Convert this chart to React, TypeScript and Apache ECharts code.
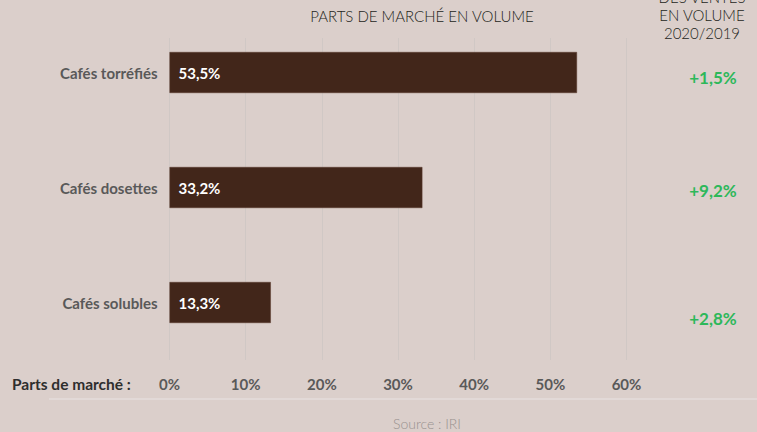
import React, { useEffect, useRef } from "react";
import * as echarts from "echarts";

const categories = ["Cafés torréfiés", "Cafés dosettes", "Cafés solubles"];
const shares = [53.5, 33.2, 13.3];
const growth = ["+1,5%", "+9,2%", "+2,8%"];
const growthY = [77, 190, 318];
const xMin = 0;
const xMax = 60;
const xInterval = 10;

const BG = "#dbcfcb";
const FONT = "Lato, 'Open Sans', sans-serif";

export default function App() {
  const ref = useRef<HTMLDivElement>(null);
  useEffect(() => {
    document.body.style.margin = "0";
    document.body.style.background = BG;
    const chart = echarts.init(ref.current!, null, { renderer: "svg" });
    chart.setOption({
      animation: false,
      backgroundColor: BG,
      textStyle: { fontFamily: FONT },
      grid: [
        { left: 169.5, right: 130.5, top: 15, height: 345, containLabel: false },
        { left: 169.5, right: 130.5, top: 38, height: 322, containLabel: false },
      ],
      xAxis: [
        {
          type: "value",
          gridIndex: 0,
          min: xMin,
          max: xMax,
          interval: xInterval,
          axisLine: { show: false },
          axisTick: { show: false },
          splitLine: { show: false },
          axisLabel: {
            formatter: "{value}%",
            margin: 16,
            color: "#595959",
            fontWeight: "bold",
            fontSize: 15,
            fontFamily: FONT,
          },
        },
        {
          type: "value",
          gridIndex: 1,
          min: xMin,
          max: xMax,
          interval: xInterval,
          axisLine: { show: false },
          axisTick: { show: false },
          axisLabel: { show: false },
          splitLine: { show: true, lineStyle: { color: "#d0c8c5", width: 1 } },
        },
      ],
      yAxis: [
        {
          type: "category",
          gridIndex: 0,
          inverse: true,
          data: categories,
          axisLine: { show: false },
          axisTick: { show: false },
          axisLabel: {
            margin: 12,
            color: "#595959",
            fontWeight: "bold",
            fontSize: 15,
            fontFamily: FONT,
          },
        },
        {
          type: "category",
          gridIndex: 1,
          inverse: true,
          data: categories,
          show: false,
        },
      ],
      series: [
        {
          type: "bar",
          xAxisIndex: 0,
          yAxisIndex: 0,
          data: shares,
          barWidth: 41,
          itemStyle: { color: "#42261a", borderColor: "#5a3a2c", borderWidth: 0.5 },
          label: {
            show: true,
            position: "insideLeft",
            distance: 9,
            color: "#ffffff",
            fontWeight: "bold",
            fontSize: 15,
            fontFamily: FONT,
            formatter: (p: any) => p.value.toFixed(1).replace(".", ",") + "%",
          },
          z: 3,
        },
        {
          type: "bar",
          xAxisIndex: 1,
          yAxisIndex: 1,
          data: [],
        },
      ],
      graphic: [
        {
          type: "text",
          x: 422,
          y: 16,
          style: {
            text: "PARTS DE MARCHÉ EN VOLUME",
            textAlign: "center",
            textVerticalAlign: "middle",
            fill: "#231f20",
            font: `300 15px ${FONT}`,
          },
        },
        {
          type: "text",
          x: 702,
          y: 15,
          style: {
            text: "DES VENTES\nEN VOLUME\n2020/2019",
            textAlign: "center",
            textVerticalAlign: "middle",
            lineHeight: 18,
            fill: "#231f20",
            font: `300 15px ${FONT}`,
          },
        },
        ...growth.map((g, i) => ({
          type: "text",
          x: 713,
          y: growthY[i],
          style: {
            text: g,
            textAlign: "center",
            textVerticalAlign: "middle",
            fill: "#2db85a",
            font: `bold 17px ${FONT}`,
          },
        })),
        {
          type: "text",
          x: 12,
          y: 384,
          style: {
            text: "Parts de marché :",
            textAlign: "left",
            textVerticalAlign: "middle",
            fill: "#2e2e2e",
            font: `bold 15.5px ${FONT}`,
          },
        },
        {
          type: "line",
          shape: { x1: 49, y1: 399, x2: 757, y2: 399 },
          style: { stroke: "#e4dddb", lineWidth: 1.5 },
        },
        {
          type: "text",
          x: 427,
          y: 423,
          style: {
            text: "Source : IRI",
            textAlign: "center",
            textVerticalAlign: "middle",
            fill: "#98918f",
            font: `300 14px ${FONT}`,
          },
        },
      ],
    });
    return () => chart.dispose();
  }, []);
  return (
    <div
      ref={ref}
      style={{ position: "fixed", left: 0, top: 0, width: 757, height: 432, background: BG }}
    />
  );
}
